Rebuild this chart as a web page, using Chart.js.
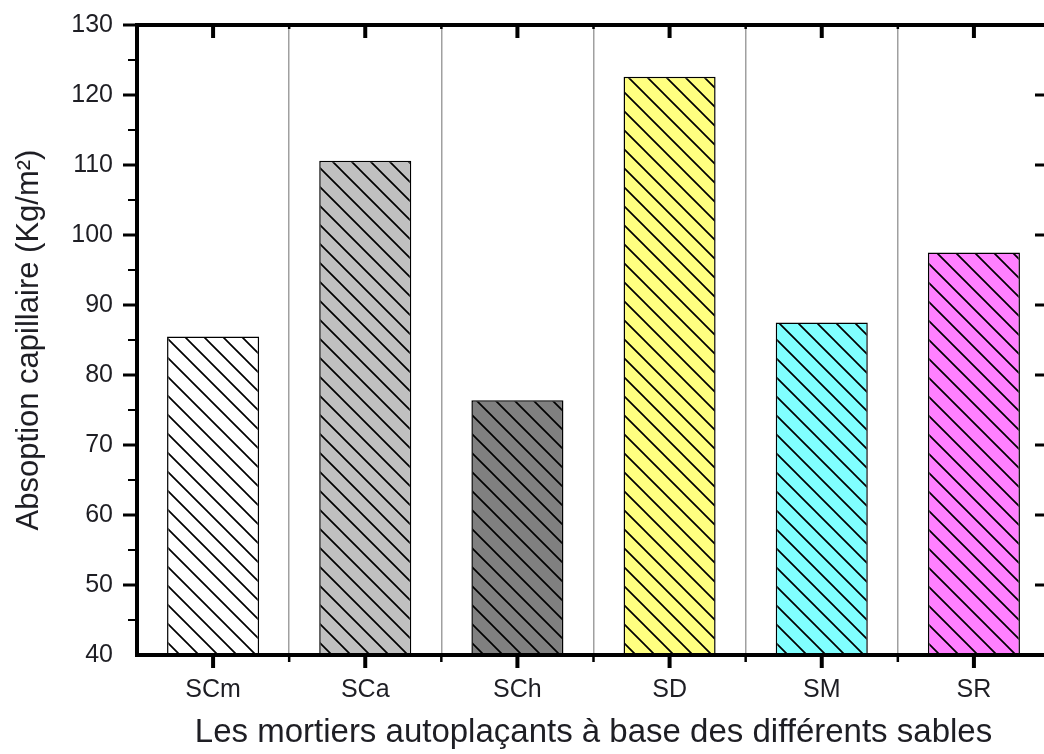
<!DOCTYPE html>
<html>
<head>
<meta charset="utf-8">
<script src="https://cdn.jsdelivr.net/npm/chart.js@4.4.1/dist/chart.umd.min.js"></script>
<style>
  html, body { margin: 0; padding: 0; overflow: hidden; background: #fff; }
  #wrap { width: 1060px; height: 754px; }
</style>
</head>
<body>
<div id="wrap"><canvas id="absChart" width="1060" height="754"></canvas></div>
<script>
const sands = ["SCm", "SCa", "SCh", "SD", "SM", "SR"];
const absorption = [85.5, 110.6, 76.4, 122.6, 87.5, 97.5];
const barColors = ["#ffffff", "#c0c0c0", "#808080", "#ffff80", "#80ffff", "#ff80ff"];
const yMin = 40, yMax = 130, yStep = 10;

const FONT = "'Liberation Sans', Arial, sans-serif";
const TEXT = "#1e1e24";

// diagonal hatch "\\" on top of the fill colour
function hatch(color) {
  const s = 19;
  const c = document.createElement("canvas");
  c.width = s; c.height = s;
  const g = c.getContext("2d");
  g.fillStyle = color;
  g.fillRect(0, 0, s, s);
  g.strokeStyle = "#000";
  g.lineWidth = 1.7;
  g.beginPath();
  for (let k = -s; k <= s; k += s) {
    g.moveTo(k - 2, -2);
    g.lineTo(k + s + 2, s + 2);
  }
  g.stroke();
  return g.createPattern(c, "repeat");
}

// frame + Origin-style ticks on all four sides
const frame = {
  id: "frame",
  afterDraw(chart) {
    const { ctx, chartArea: a, scales: { x, y } } = chart;
    ctx.save();
    ctx.strokeStyle = "#000";
    ctx.lineCap = "butt";

    function seg(x1, y1, x2, y2, w) {
      ctx.lineWidth = w;
      ctx.beginPath();
      ctx.moveTo(x1, y1);
      ctx.lineTo(x2, y2);
      ctx.stroke();
    }

    // y ticks: major every 10, minor every 5
    for (let v = yMin; v <= yMax; v += yStep / 2) {
      const py = y.getPixelForValue(v);
      const major = (v - yMin) % yStep === 0;
      if (v > yMin) {
        seg(a.left - (major ? 14 : 9), py, a.left, py, major ? 3 : 2);
        seg(a.right, py, a.right - (major ? 15 : 5), py, major ? 3 : 2);
      }
    }

    // x ticks: major at categories, minor at boundaries
    for (let i = 0; i < sands.length; i++) {
      const px = x.getPixelForValue(i);
      seg(px, a.bottom, px, a.bottom + 13, 4);
      seg(px, a.top, px, a.top + 13, 4);
      if (i > 0) {
        const bx = (x.getPixelForValue(i - 1) + px) / 2;
        seg(bx, a.bottom, bx, a.bottom + 7, 2.5);
        seg(bx, a.top, bx, a.top + 4, 2.5);
      }
    }

    ctx.lineWidth = 4;
    ctx.strokeRect(a.left, a.top, a.right - a.left, a.bottom - a.top);
    ctx.restore();
  }
};

const ctx = document.getElementById("absChart").getContext("2d");
new Chart(ctx, {
  type: "bar",
  data: {
    labels: sands,
    datasets: [{
      data: absorption,
      backgroundColor: barColors.map(hatch),
      borderColor: "#000",
      borderWidth: 1.5,
      borderSkipped: false,
      barPercentage: 0.605,
      categoryPercentage: 1
    }]
  },
  options: {
    responsive: false,
    animation: false,
    devicePixelRatio: 1,
    layout: { padding: { top: 25, right: 10, left: 0, bottom: 0 } },
    plugins: { legend: { display: false }, tooltip: { enabled: false } },
    scales: {
      x: {
        offset: true,
        grid: { display: true, offset: true, color: "#a0a0a0", lineWidth: 1.5, drawTicks: false },
        border: { display: false },
        ticks: { color: TEXT, font: { family: FONT, size: 25 }, padding: 20 },
        title: {
          display: true,
          text: "Les mortiers autoplaçants à base des différents sables",
          color: TEXT,
          font: { family: FONT, size: 33 },
          padding: { top: 0, bottom: 1 }
        },
        afterFit: s => { s.height = 99; s.paddingLeft = 0; s.paddingRight = 0; }
      },
      y: {
        min: yMin,
        max: yMax,
        grid: { display: false, drawTicks: false },
        border: { display: false },
        ticks: { stepSize: yStep, color: TEXT, font: { family: FONT, size: 25 }, padding: 24 },
        title: {
          display: true,
          text: "Absoption capillaire (Kg/m²)",
          color: TEXT,
          font: { family: FONT, size: 31 },
          padding: { top: 11, bottom: 0 }
        },
        afterFit: s => { s.width = 137; s.paddingTop = 0; s.paddingBottom = 0; }
      }
    }
  },
  plugins: [frame]
});
</script>
</body>
</html>
